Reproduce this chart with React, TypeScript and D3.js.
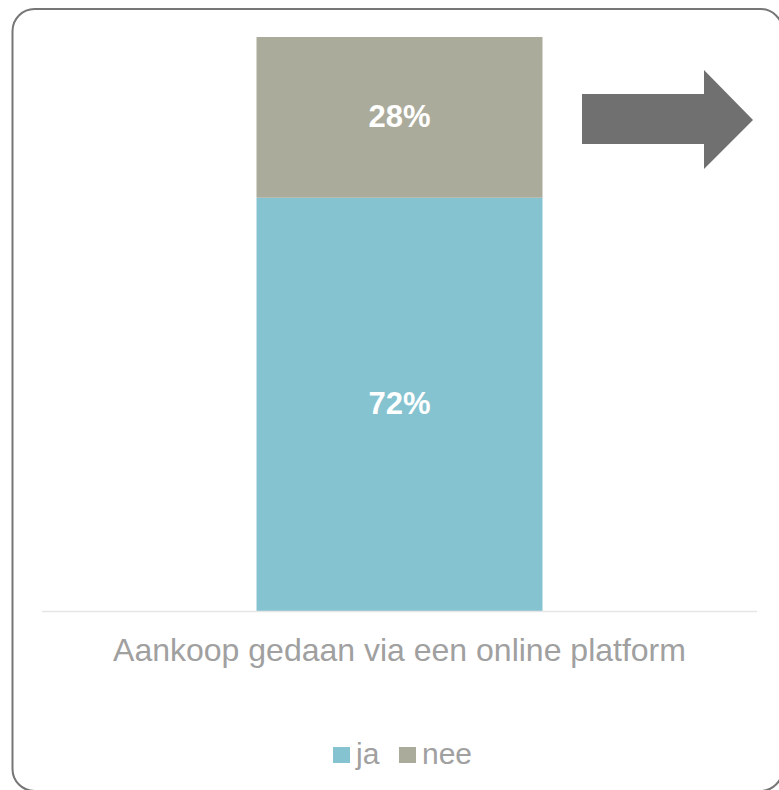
import React from "react";
import * as d3 from "d3";

const categories = ["Aankoop gedaan via een online platform"];
const seriesNames = ["ja", "nee"];
const jaValues = [72];
const neeValues = [28];
const colors = ["#85C3D1", "#ABAB9B"];

const W = 779;
const H = 790;

export default function App() {
  const x = d3
    .scaleBand<string>()
    .domain(categories)
    .range([42, 757])
    .paddingInner(0.4286)
    .paddingOuter(0.4286);
  const y = d3.scaleLinear().domain([0, 100]).range([611, 37]);

  const rows = categories.map((c, i) => ({ cat: c, ja: jaValues[i], nee: neeValues[i] }));
  const stack = d3.stack<any>().keys(seriesNames)(rows);

  const font = "Arial, 'Liberation Sans', sans-serif";

  const legendItems = seriesNames.map((s, i) => ({ name: s, color: colors[i] }));
  const legendX = [333, 399];

  return (
    <svg
      width={W}
      height={H}
      style={{ position: "absolute", left: 0, top: 0, display: "block" }}
      fontFamily={font}
    >
      <rect x={12.5} y={9} width={770} height={782} rx={22} ry={22} fill="#fff" stroke="#767676" strokeWidth={2} />
      {stack.map((layer, li) =>
        layer.map((d, j) => (
          <g key={`${li}-${j}`}>
            <rect
              x={x(rows[j].cat)!}
              width={x.bandwidth()}
              y={y(d[1])}
              height={y(d[0]) - y(d[1])}
              fill={colors[li]}
            />
            <text
              x={x(rows[j].cat)! + x.bandwidth() / 2}
              y={(y(d[0]) + y(d[1])) / 2 - 1}
              dy="0.35em"
              textAnchor="middle"
              fill="#fff"
              fontWeight="bold"
              fontSize={31}
            >
              {`${d[1] - d[0]}%`}
            </text>
          </g>
        ))
      )}
      <line x1={42} x2={757} y1={611.5} y2={611.5} stroke="#e6e6e6" strokeWidth={1.5} />
      {categories.map((c) => (
        <text
          key={c}
          x={x(c)! + x.bandwidth() / 2}
          y={661}
          textAnchor="middle"
          fill="#a0a0a0"
          fontSize={32}
        >
          {c}
        </text>
      ))}
      {legendItems.map((l, i) => (
        <g key={l.name} transform={`translate(${legendX[i]},0)`}>
          <rect x={0} y={747} width={17} height={16} fill={l.color} />
          <text x={23} y={764} fill="#a0a0a0" fontSize={30}>
            {l.name}
          </text>
        </g>
      ))}
      <path d="M582,94 L704,94 L704,70 L753,120 L704,169 L704,144 L582,144 Z" fill="#707070" />
    </svg>
  );
}
